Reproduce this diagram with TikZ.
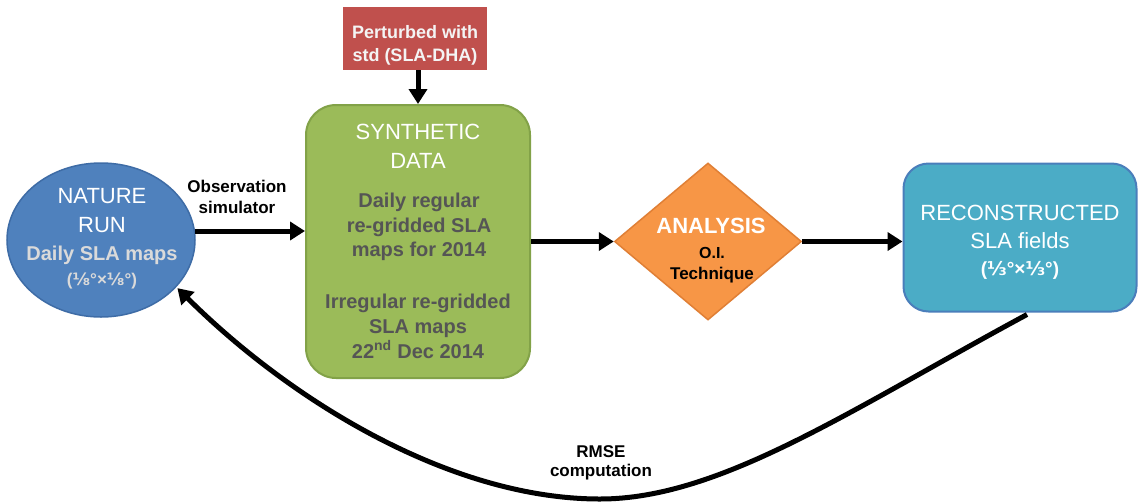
\documentclass[tikz,border=0pt]{standalone}
\usepackage{fontspec}
\setmainfont{Liberation Sans}
\newfontfamily\djv{DejaVu Sans}
\usetikzlibrary{shapes.geometric,arrows.meta,calc}
\definecolor{natblue}{HTML}{4F81BD}
\definecolor{natborder}{HTML}{3E6CA6}
\definecolor{syngreen}{HTML}{9BBB59}
\definecolor{synborder}{HTML}{82A248}
\definecolor{pertred}{HTML}{C0504D}
\definecolor{anaorange}{HTML}{F79646}
\definecolor{anaborder}{HTML}{E07F35}
\definecolor{recblue}{HTML}{4BACC6}
\definecolor{recborder}{HTML}{4A7EBB}
\definecolor{lgray}{HTML}{DADADA}
\definecolor{dgray}{HTML}{555555}
\definecolor{pwhite}{HTML}{F4F4F4}
\newcommand\myfs[1]{\fontsize{#1}{#1}\selectfont}
\begin{document}
\begin{tikzpicture}[x=1pt,y=-1pt,
  arr/.style={line width=5pt,-{Triangle[length=15pt,width=18pt]}},
  txt/.style={anchor=base,inner sep=0pt},
  wtxt/.style={txt,text=white},
  boxshape/.style={rectangle,inner sep=0pt}]
\fill[white] (0,0) rectangle (1139,501);
\useasboundingbox (0,0) rectangle (1139,501);

% shapes
\node[ellipse,draw=natborder,fill=natblue,line width=1.5pt,minimum width=188pt,minimum height=154pt,inner sep=0pt] (nature) at (101,240) {};
\node[boxshape,rounded corners=30pt,fill=syngreen,draw=synborder,line width=2pt,minimum width=224pt,minimum height=273pt] (synth) at (418,241.5) {};
\node[boxshape,fill=pertred,minimum width=144pt,minimum height=63pt] (pert) at (415,38.5) {};
\node[diamond,fill=anaorange,draw=anaborder,line width=1.5pt,minimum width=187pt,minimum height=157pt,inner sep=0pt] (analysis) at (708,241.5) {};
\node[boxshape,rounded corners=25pt,fill=recblue,draw=recborder,line width=2pt,minimum width=233pt,minimum height=148pt] (recon) at (1020,237.5) {};

% texts: nature run
\node[wtxt,font=\myfs{22}] (tn1) at (102,203) {NATURE};
\node[wtxt,font=\myfs{22}] (tn2) at (102,232) {RUN};
\node[txt,text=lgray,font=\myfs{20}\bfseries] (tn3) at (102,260) {Daily SLA maps};
\node[txt,text=lgray,font=\myfs{17}\bfseries] (tn4) at (102,285) {({\djv ⅛}°×{\djv ⅛}°)};

% synthetic data
\node[wtxt,font=\myfs{22}] (ts1) at (418,139) {SYNTHETIC};
\node[wtxt,font=\myfs{22}] (ts2) at (418,168) {DATA};
\node[txt,text=dgray,font=\myfs{20}\bfseries] (ts3) at (419,207) {Daily regular};
\node[txt,text=dgray,font=\myfs{20}\bfseries] (ts4) at (419,232) {re-gridded SLA};
\node[txt,text=dgray,font=\myfs{20}\bfseries] (ts5) at (419,256) {maps for 2014};
\node[txt,text=dgray,font=\myfs{20}\bfseries] (ts6) at (418,308) {Irregular re-gridded};
\node[txt,text=dgray,font=\myfs{20}\bfseries] (ts7) at (418,333) {SLA maps};
\node[txt,text=dgray,font=\myfs{20}\bfseries] (ts8) at (418,358) {22\textsuperscript{nd} Dec 2014};

% perturbed
\node[txt,text=pwhite,font=\myfs{18}\bfseries] (tp1) at (415,38) {Perturbed with};
\node[txt,text=pwhite,font=\myfs{18}\bfseries] (tp2) at (415,61) {std (SLA-DHA)};

% analysis
\node[wtxt,font=\myfs{22}\bfseries] (ta1) at (711,233) {ANALYSIS};
\node[txt,font=\myfs{16}\bfseries] (ta2) at (712,258) {O.I.};
\node[txt,font=\myfs{17}\bfseries] (ta3) at (712,279) {Technique};

% reconstructed
\node[wtxt,font=\myfs{22}] (tr1) at (1020,220) {RECONSTRUCTED};
\node[wtxt,font=\myfs{22}] (tr2) at (1020,248) {SLA fields};
\node[wtxt,font=\myfs{19}\bfseries] (tr3) at (1020,275) {({\djv ⅓}°×{\djv ⅓}°)};

% connector labels
\node[txt,font=\myfs{17}\bfseries] (lobs1) at (237,192) {Observation};
\node[txt,font=\myfs{17}\bfseries] (lobs2) at (237,213) {simulator};
\node[txt,font=\myfs{17}\bfseries] (lrm1) at (601,457) {RMSE};
\node[txt,font=\myfs{17}\bfseries] (lrm2) at (601,476) {computation};

% connectors
\draw[arr] ($(nature.east)+(-1,-9)$) -- ($(synth.west |- nature.east)+(0,-9)$);
\draw[arr] (synth.north |- pert.south) -- (synth.north);
\draw[arr] (synth.east |- analysis.west) -- (analysis.west);
\draw[arr] (analysis.east) -- (recon.west |- analysis.east);
\draw[arr] ($(recon.south)+(7,2)$) .. controls (850,410) and (720,499) .. (600,499)
  .. controls (450,499) and (290,400) .. ($(nature.-32)+(1,1)$);
\end{tikzpicture}
\end{document}
